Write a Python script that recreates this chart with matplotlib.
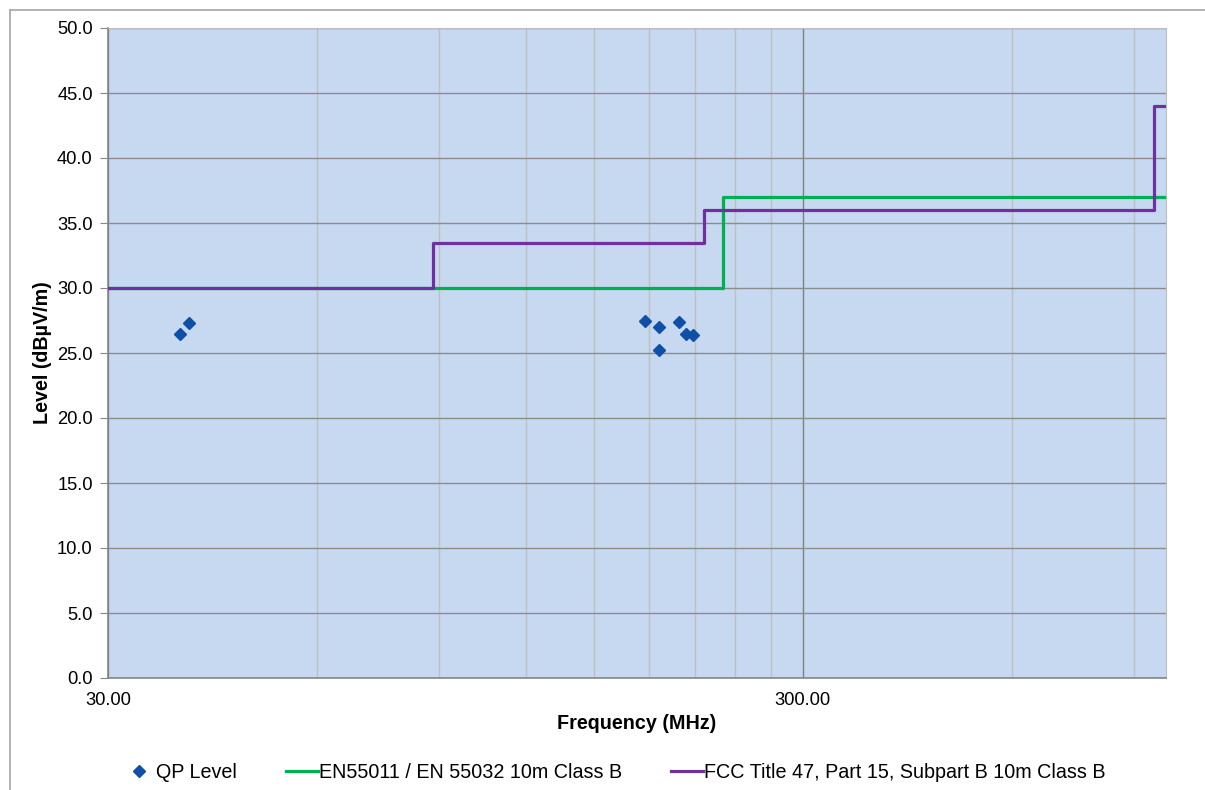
import matplotlib.pyplot as plt
from matplotlib.lines import Line2D
from matplotlib.ticker import FixedLocator, NullFormatter

plt.rcParams['font.family'] = ['Liberation Sans', 'DejaVu Sans']

# QP measurement points
qp_freq = [38.1, 39.2, 177.9, 186.0, 186.2, 198.9, 203.6, 208.4]
qp_level = [26.5, 27.3, 27.5, 25.2, 27.0, 27.4, 26.5, 26.4]

# limit lines (step edges)
en_freq = [30, 230, 230, 1000]
en_level = [30, 30, 37, 37]
fcc_freq = [30, 88, 88, 216, 216, 960, 960, 1000]
fcc_level = [30, 30, 33.5, 33.5, 36, 36, 44, 44]

x_major = [30, 300]
x_major_labels = ['30.00', '300.00']
x_minor = [60, 90, 120, 150, 180, 210, 240, 270, 600, 900]
y_ticks = [0, 5, 10, 15, 20, 25, 30, 35, 40, 45, 50]

fig = plt.figure(figsize=(12.05, 7.9), dpi=100)
ax = fig.add_axes([108 / 1205, 1 - 678 / 790, (1166 - 108) / 1205, (678 - 28) / 790])
ax.set_facecolor('#C6D9F0')

ax.plot(en_freq, en_level, color='#00B050', lw=2.3, zorder=3,
        label='EN55011 / EN 55032 10m Class B')
ax.plot(fcc_freq, fcc_level, color='#7030A0', lw=2.3, zorder=4,
        label='FCC Title 47, Part 15, Subpart B 10m Class B')
ax.plot(qp_freq, qp_level, ls='none', marker='D', ms=6, color='#0F4FA8',
        zorder=5, label='QP Level')

ax.set_xscale('log')
ax.set_xlim(30, 1000)
ax.set_ylim(0, 50)
ax.xaxis.set_major_locator(FixedLocator(x_major))
ax.set_xticklabels(x_major_labels)
ax.xaxis.set_minor_locator(FixedLocator(x_minor))
ax.xaxis.set_minor_formatter(NullFormatter())
ax.set_yticks(y_ticks)
ax.set_yticklabels([f'{v:.1f}' for v in y_ticks])

ax.grid(True, which='major', axis='y', color='#8C8C8C', lw=1.0, zorder=1)
ax.grid(True, which='major', axis='x', color='#7F7F7F', lw=1.0, zorder=1)
ax.grid(True, which='minor', axis='x', color='#BFBFBF', lw=1.0, zorder=1)
ax.set_axisbelow(True)

ax.tick_params(axis='both', which='major', labelsize=13.2, color='#868686',
               length=6, pad=5)
ax.tick_params(axis='x', which='major', length=0, pad=10)
ax.tick_params(axis='x', which='minor', length=0)

for side in ['left', 'bottom']:
    ax.spines[side].set_color('#868686')
    ax.spines[side].set_linewidth(1.2)
for side in ['top', 'right']:
    ax.spines[side].set_color('#BFBFBF')

ax.set_xlabel('Frequency (MHz)', fontsize=14.2, fontweight='bold', labelpad=4)
ax.set_ylabel('Level (dBµV/m)', fontsize=14.2, fontweight='bold', labelpad=4)

# chart frame
fig.add_artist(Line2D([10 / 1205, 10 / 1205], [0, 1 - 10 / 790],
                      transform=fig.transFigure, color='#A6A6A6', lw=1.2))
fig.add_artist(Line2D([10 / 1205, 1], [1 - 10 / 790, 1 - 10 / 790],
                      transform=fig.transFigure, color='#A6A6A6', lw=1.2))

handles, labels = ax.get_legend_handles_labels()
order = [2, 0, 1]
fig.legend([handles[i] for i in order], [labels[i] for i in order],
           loc='center', bbox_to_anchor=(0.510, 1 - 772 / 790), ncol=3,
           frameon=False, fontsize=14.2, handlelength=1.6, handletextpad=0.05,
           columnspacing=2.5)

fig.savefig('out.png', dpi=100)
